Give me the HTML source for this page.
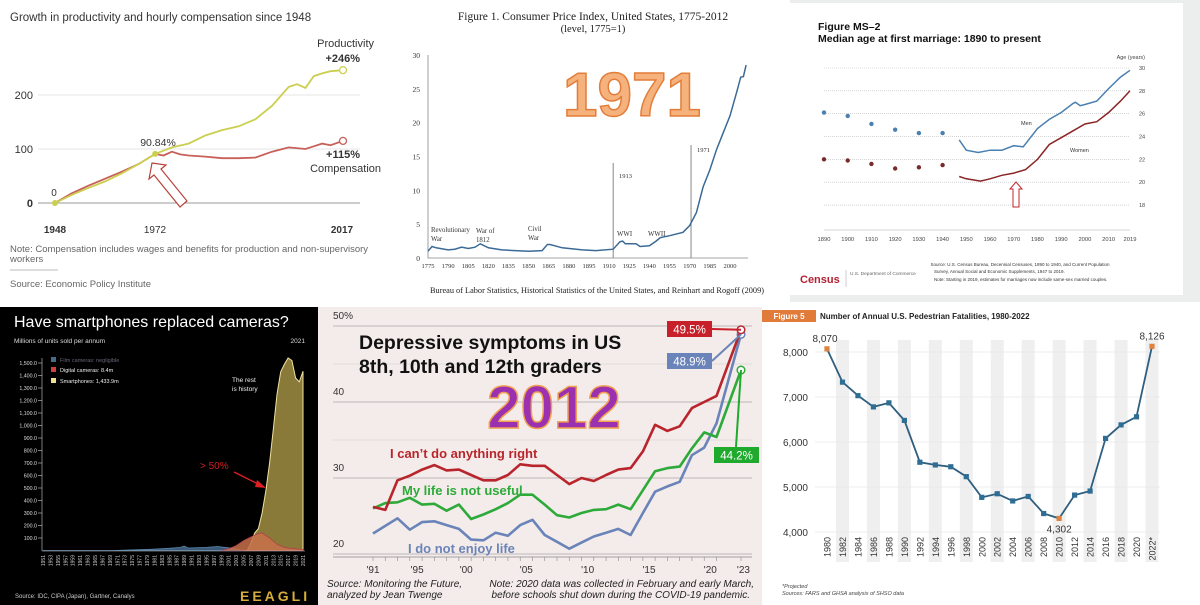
<!DOCTYPE html>
<html><head><meta charset="utf-8"><style>
html,body{margin:0;padding:0;background:#fff;}
svg{display:block;font-family:"Liberation Sans",sans-serif;}
.serif{font-family:"Liberation Serif",serif;}
</style></head><body>
<svg id="root" width="1200" height="605" viewBox="0 0 1200 605" xmlns="http://www.w3.org/2000/svg">
<rect x="0" y="0" width="390" height="302" fill="#fff"/>
<rect x="390" y="0" width="400" height="302" fill="#fff"/>
<rect x="790" y="0" width="410" height="302" fill="#eceeee"/>
<rect x="790" y="3" width="393" height="292" fill="#fff"/>
<rect x="0" y="307" width="318" height="298" fill="#000"/>
<rect x="318" y="307" width="444" height="298" fill="#f4ecea"/>
<rect x="762" y="307" width="438" height="298" fill="#fff"/>

<text x="10" y="21" font-size="11.5" fill="#333">Growth in productivity and hourly compensation since 1948</text>
<g id="p1"></g>
<text x="10" y="252" font-size="9.5" fill="#666">Note: Compensation includes wages and benefits for production and non-supervisory</text>
<text x="10" y="262" font-size="9.5" fill="#666">workers</text>
<line x1="10" y1="270" x2="58" y2="270" stroke="#bbb"/>
<text x="10" y="287" font-size="9.5" fill="#666">Source: Economic Policy Institute</text>

<text class="serif" x="593" y="20" font-size="11.5" text-anchor="middle" fill="#222">Figure 1. Consumer Price Index, United States, 1775-2012</text>
<text class="serif" x="593" y="32" font-size="10.5" text-anchor="middle" fill="#222">(level, 1775=1)</text>
<g id="p2"></g>
<text class="serif" x="597" y="293" font-size="8.3" text-anchor="middle" fill="#222">Bureau of Labor Statistics, Historical Statistics of the United States, and Reinhart and Rogoff (2009)</text>

<text x="818" y="30" font-size="10.5" font-weight="bold" fill="#111">Figure MS–2</text>
<text x="818" y="42" font-size="10.5" font-weight="bold" fill="#111">Median age at first marriage: 1890 to present</text>
<text x="1145" y="59" font-size="5.5" fill="#444" text-anchor="end">Age (years)</text>
<g id="p3"></g>
<text x="1020" y="266" font-size="4.5" fill="#333" text-anchor="middle">Source: U.S. Census Bureau, Decennial Censuses, 1890 to 1940, and Current Population</text>
<text x="934" y="273" font-size="4.5" fill="#333">Survey, Annual Social and Economic Supplements, 1947 to 2019.</text>
<text x="934" y="281" font-size="4.5" fill="#333">Note: Starting in 2019, estimates for marriages now include same-sex married couples.</text>
<text x="800" y="283" font-size="11" font-weight="bold" fill="#b22234">Census</text>
<line x1="846" y1="270" x2="846" y2="287" stroke="#999" stroke-width="0.5"/>
<text x="850" y="275" font-size="4.8" fill="#666">U.S. Department of Commerce</text>

<text x="14" y="327" font-size="16" fill="#fff">Have smartphones replaced cameras?</text>
<text x="14" y="343" font-size="6.5" fill="#ddd">Millions of units sold per annum</text>
<text x="305" y="343" font-size="6.5" fill="#ddd" text-anchor="end">2021</text>
<g id="p4"></g>
<text x="15" y="598" font-size="6" fill="#ccc">Source: IDC, CIPA (Japan), Gartner, Canalys</text>
<text x="240" y="601" font-size="14" font-weight="bold" fill="#d6ac3a" letter-spacing="3">EEAGLI</text>

<g id="p5"></g>
<text x="359" y="349" font-size="19.5" font-weight="bold" fill="#111">Depressive symptoms in US</text>
<text x="359" y="373" font-size="19.5" font-weight="bold" fill="#111">8th, 10th and 12th graders</text>
<text x="554" y="428" font-size="60" font-weight="bold" fill="#9b30b0" stroke="#f0a050" stroke-width="1.5" text-anchor="middle">2012</text>
<text x="390" y="458" font-size="13" font-weight="bold" fill="#b8252c">I can’t do anything right</text>
<text x="402" y="495" font-size="13" font-weight="bold" fill="#2eaa3a">My life is not useful</text>
<text x="408" y="553" font-size="13" font-weight="bold" fill="#6a84b9">I do not enjoy life</text>
<text x="327" y="587" font-size="10" font-style="italic" fill="#222">Source: Monitoring the Future,</text>
<text x="327" y="598" font-size="10" font-style="italic" fill="#222">analyzed by Jean Twenge</text>
<text x="754" y="587" font-size="10" font-style="italic" fill="#222" text-anchor="end">Note: 2020 data was collected in February and early March,</text>
<text x="750" y="598" font-size="10" font-style="italic" fill="#222" text-anchor="end">before schools shut down during the COVID-19 pandemic.</text>

<rect x="762" y="310" width="54" height="12" fill="#e07b39"/>
<text x="789" y="319" font-size="8" font-weight="bold" fill="#fff" text-anchor="middle">Figure 5</text>
<text x="820" y="319" font-size="8" font-weight="bold" fill="#222">Number of Annual U.S. Pedestrian Fatalities, 1980-2022</text>
<g id="p6"></g>
<text x="782" y="588" font-size="5.5" font-style="italic" fill="#444">*Projected</text>
<text x="782" y="595" font-size="5.5" font-style="italic" fill="#444">Sources: FARS and GHSA analysis of SHSO data</text>

<text x="632" y="116" font-size="62" font-weight="bold" fill="#f6b27c" stroke="#e37d3a" stroke-width="1.5" text-anchor="middle">1971</text>
</svg>
<script>
const prodYears = [1948,1952,1956,1960,1964,1968,1972,1976,1980,1984,1988,1992,1996,2000,2004,2006,2008,2010,2012,2014,2017];
const prodValues = [0,15,28,40,55,72,91,103,110,125,135,142,155,180,215,220,213,235,240,244,246];
const compYears = [1948,1952,1956,1960,1964,1968,1972,1974,1976,1978,1980,1984,1988,1992,1996,2000,2004,2008,2010,2012,2014,2017];
const compValues = [0,18,32,45,58,72,91,88,95,90,88,86,83,83,84,95,103,100,105,110,107,115];
const prodTicks = [0,100,200];

const cpiYears = [1775,1778,1781,1790,1795,1800,1805,1810,1814,1820,1830,1840,1850,1860,1864,1866,1875,1890,1900,1913,1918,1920,1922,1930,1933,1940,1945,1948,1955,1965,1970,1975,1980,1985,1990,1995,2000,2005,2008,2010,2012];
const cpiValues = [1,1.7,1.5,1.2,1.3,1.6,1.4,1.6,2.1,1.5,1.2,1.1,1.0,1.1,2.0,2.0,1.5,1.2,1.1,1.3,2.4,2.5,2.1,2.1,1.7,1.8,2.5,3.0,3.3,3.8,4.8,6.7,10.5,13,16,18.5,21,24.5,26.7,26.8,28.5];
const cpiYTicks = [0,5,10,15,20,25,30];
const cpiXTicks = [1775,1790,1805,1820,1835,1850,1865,1880,1895,1910,1925,1940,1955,1970,1985,2000];

const censusYears = [1890,1900,1910,1920,1930,1940];
const censusMen = [26.1,25.8,25.1,24.6,24.3,24.3];
const censusWomen = [22.0,21.9,21.6,21.2,21.3,21.5];
const cpsMenYears = [1947,1950,1955,1960,1965,1970,1974,1980,1985,1990,1995,1996,1998,2000,2005,2010,2015,2019];
const cpsMen = [23.7,22.8,22.6,22.8,22.8,23.2,23.1,24.7,25.5,26.1,26.9,27.0,26.7,26.8,27.1,28.2,29.2,29.8];
const cpsWomenYears = [1947,1950,1956,1960,1965,1970,1975,1980,1985,1990,1995,2000,2005,2010,2015,2019];
const cpsWomen = [20.5,20.3,20.1,20.3,20.6,20.8,21.1,22.0,23.3,23.9,24.5,25.1,25.3,26.1,27.1,28.0];
const ageTicks = [18,20,22,24,26,28,30];
const ageXTicks = [1890,1900,1910,1920,1930,1940,1950,1960,1970,1980,1990,2000,2010,2019];

const phoneYears = [2005,2006,2007,2008,2009,2010,2011,2012,2013,2014,2015,2016,2017,2018,2019,2020,2021];
const phoneValues = [0,0,60,140,175,300,480,700,970,1250,1430,1490,1540,1520,1380,1350,1434];
const digitalYears = [1999,2001,2003,2005,2007,2009,2010,2012,2014,2016,2018,2021];
const digitalValues = [0,15,40,80,110,135,140,100,50,25,15,8];
const filmYears = [1951,1970,1975,1980,1985,1988,1989,1990,1995,1998,2001,2004,2006];
const filmValues = [0,0,5,10,18,25,35,20,25,32,22,5,0];
const phoneTicks = [100,200,300,400,500,600,700,800,900,1000,1100,1200,1300,1400,1500];

const waveYears = [1991,1992,1993,1994,1995,1996,1997,1998,1999,2000,2001,2002,2003,2004,2005,2006,2007,2008,2009,2010,2011,2012,2013,2014,2015,2016,2017,2018,2019,2021];
const redValues = [26.2,25.8,29.7,30.3,31.1,31.7,31.0,31.1,30.4,29.7,29.7,30.4,31.8,31.6,31.6,30.4,29.2,30.0,29.6,30.4,31.1,31.3,33.5,37.0,36.2,36.8,39.2,40.0,40.8,49.5];
const greenValues = [26.0,26.7,26.8,27.4,26.5,26.6,25.7,26.5,24.6,25.2,25.9,26.7,27.8,27.8,26.5,25.1,24.8,25.4,25.8,25.9,26.5,25.9,28.4,30.9,31.3,31.5,33.9,36.0,35.4,44.2];
const blueValues = [22.7,23.7,24.7,23.2,24.2,24.3,23.8,23.3,21.9,21.8,22.8,22.4,23.8,24.5,22.5,21.6,20.7,21.5,22.3,22.8,23.3,22.5,25.4,28.2,28.9,29.5,33.0,34.0,37.2,48.9];
const depTicks = [20,30,40,50];
const depTickLabels = ["20","30","40","50%"];
const depXLabels = ["'91","'95","'00","'05","'10","'15","'20","'23"];
const depXLabelYears = [1991,1994.6,1998.6,2003.5,2008.5,2013.5,2018.5,2021.2];

const pedYears = [1980,1982,1984,1986,1988,1990,1992,1994,1996,1998,2000,2002,2004,2006,2008,2010,2012,2014,2016,2018,2020,2022];
const pedValues = [8070,7330,7030,6780,6870,6480,5550,5490,5450,5230,4770,4850,4690,4790,4410,4302,4820,4910,6080,6380,6560,8126];
const pedTicks = [4000,5000,6000,7000,8000];

const NS = "http://www.w3.org/2000/svg";
function mk(tag, attrs, parent){const e=document.createElementNS(NS,tag);for(const k in attrs)e.setAttribute(k,attrs[k]);parent.appendChild(e);return e;}
function txt(s, attrs, parent){const e=mk("text",attrs,parent);e.textContent=s;return e;}
function pathOf(xs, ys, fx, fy){return xs.map((v,i)=>(i?"L":"M")+fx(v).toFixed(1)+","+fy(ys[i]).toFixed(1)).join("");}

(function(){
const g=document.getElementById("p1");
const x=y=>55+(y-1948)*(288/69), yv=v=>203-v*0.54;
prodTicks.forEach(t=>{
  const l=mk("line",{x1:38,x2:360,y1:yv(t),y2:yv(t),stroke:t?"#ddd":"#999","stroke-width":t?0.8:1},g);
  
  
  const lb=txt(String(t),{x:33,y:yv(t)+4,"font-size":11,"text-anchor":"end",fill:"#333","font-weight":t?"normal":"bold"},g);
  
  
});
const c=mk("path",{d:pathOf(compYears,compValues,x,yv),fill:"none",stroke:"#c8605a","stroke-width":1.8},g);


const p=mk("path",{d:pathOf(prodYears,prodValues,x,yv),fill:"none",stroke:"#cbcf4e","stroke-width":1.8},g);


const e1=mk("circle",{cx:x(2017),cy:yv(prodValues[prodValues.length-1]),r:3.5,fill:"#fff",stroke:"#cbcf4e","stroke-width":1.3},g);


const e2=mk("circle",{cx:x(2017),cy:yv(compValues[compValues.length-1]),r:3.5,fill:"#fff",stroke:"#c8605a","stroke-width":1.3},g);


const d0=mk("circle",{cx:x(1948),cy:yv(0),r:3,fill:"#cbcf4e"},g);


const d1=mk("circle",{cx:x(1972),cy:yv(91),r:3,fill:"#cbcf4e"},g);


[["0",54,196,"normal",10,"middle","zero-label"],["90.84%",158,146,"normal",10.5,"middle","1972-value-label"],["Productivity",374,47,"normal",11,"end","productivity-label"],["+246%",360,62,"bold",11,"end","productivity-change-label"],["+115%",360,158,"bold",11,"end","compensation-change-label"],["Compensation",381,172,"normal",11,"end","compensation-label"],["1948",55,233,"bold",10,"middle","x-tick-1948"],["1972",155,233,"normal",10,"middle","x-tick-1972"],["2017",342,233,"bold",10,"middle","x-tick-2017"]].forEach(a=>{
  const t=txt(a[0],{x:a[1],y:a[2],"font-weight":a[3],"font-size":a[4],"text-anchor":a[5],fill:"#333"},g);
  
  
});
const ar=mk("path",{d:"M152,163 L166,165 L161,169 L187,201 L180,207 L154,175 L149,179 Z",fill:"#fff",stroke:"#b8433a","stroke-width":1.2},g);


})();

(function(){
const g=document.getElementById("p2");
const x=y=>428+(y-1775)*1.342, yv=v=>258-v*6.77;
const ax=mk("path",{d:"M428,55 L428,258 L748,258",fill:"none",stroke:"#888","stroke-width":0.8},g);


cpiYTicks.forEach(t=>{
  const lb=txt(String(t),{x:420,y:yv(t)+3,"font-size":7.5,"text-anchor":"end",fill:"#333",class:"serif"},g);
  
  
});
cpiXTicks.forEach(t=>{
  const lb=txt(String(t),{x:x(t),y:268,"font-size":6.5,"text-anchor":"middle",fill:"#333",class:"serif"},g);
  
  
});
[[1913,163,"1913",619,178],[1971,145,"1971",697,152]].forEach(a=>{
  const l=mk("line",{x1:x(a[0]),x2:x(a[0]),y1:a[1],y2:258,stroke:"#888","stroke-width":1},g);
  
  
  const t=txt(a[2],{x:a[3],y:a[4],"font-size":6.5,fill:"#333",class:"serif"},g);
  
  
});
[["Revolutionary",431,232],["War",431,241],["War of",476,233],["1812",476,242],["Civil",528,231],["War",528,240],["WWI",617,236],["WWII",648,236]].forEach(a=>{
  const t=txt(a[0],{x:a[1],y:a[2],"font-size":6.8,fill:"#333",class:"serif"},g);
  
  
});
const l=mk("path",{d:pathOf(cpiYears,cpiValues,x,yv),fill:"none",stroke:"#3b6a96","stroke-width":1.5},g);


})();

(function(){
const g=document.getElementById("p3");
const x=y=>824+(y-1890)*2.372, yv=v=>68+(30-v)*11.42;
ageTicks.forEach(t=>{
  const l=mk("line",{x1:824,x2:1130,y1:yv(t),y2:yv(t),stroke:"#bbb","stroke-width":0.6,"stroke-dasharray":"1,1"},g);
  
  
  const lb=txt(String(t),{x:1139,y:yv(t)+2,"font-size":5.5,fill:"#444"},g);
  
  
});
const ax=mk("line",{x1:824,x2:1130,y1:230,y2:230,stroke:"#aaa","stroke-width":0.6},g);


ageXTicks.forEach(t=>{
  const lb=txt(String(t),{x:x(t),y:241,"font-size":5.8,"text-anchor":"middle",fill:"#444"},g);
  
  
});
censusYears.forEach((yr,i)=>{
  const m=mk("circle",{cx:x(yr),cy:yv(censusMen[i]),r:2.2,fill:"#4a7fb0"},g);
  
  
  const w=mk("circle",{cx:x(yr),cy:yv(censusWomen[i]),r:2.2,fill:"#7a2a2a"},g);
  
  
});
const ml=mk("path",{d:pathOf(cpsMenYears,cpsMen,x,yv),fill:"none",stroke:"#4a7fb0","stroke-width":1.5},g);


const wl=mk("path",{d:pathOf(cpsWomenYears,cpsWomen,x,yv),fill:"none",stroke:"#8b2525","stroke-width":1.5},g);


const t1=txt("Men",{x:1021,y:125,"font-size":5.5,fill:"#333"},g);


const t2=txt("Women",{x:1070,y:152,"font-size":5.5,fill:"#333"},g);


const ar=mk("path",{d:"M1016,182 L1022,189 L1019,189 L1019,207 L1013,207 L1013,189 L1010,189 Z",fill:"#fff",stroke:"#c0262b","stroke-width":1},g);


})();

(function(){
const g=document.getElementById("p4");
const x=y=>43+(y-1951)*(260/70), yv=v=>550.5-v*0.125;
phoneTicks.forEach(t=>{
  const lb=txt(t.toLocaleString("en-US")+".0",{x:37,y:yv(t)+2,"font-size":5.3,"text-anchor":"end",fill:"#ddd"},g);
  
  
  const tk=mk("line",{x1:38,x2:42,y1:yv(t),y2:yv(t),stroke:"#ccc","stroke-width":0.6},g);
  
  
});
const ya=mk("line",{x1:42,x2:42,y1:358,y2:551,stroke:"#ccc","stroke-width":0.6},g);


function area(xs,vs){return pathOf(xs,vs,x,yv)+"L"+x(xs[xs.length-1]).toFixed(1)+","+yv(0)+"L"+x(xs[0]).toFixed(1)+","+yv(0)+"Z";}
const fa=mk("path",{d:area(filmYears,filmValues),fill:"#3c5a78",stroke:"#5a86ab","stroke-width":0.8},g);


const pa=mk("path",{d:area(phoneYears,phoneValues),fill:"#8a7a3a",stroke:"#f2e3a0","stroke-width":1},g);


const da=mk("path",{d:area(digitalYears,digitalValues),fill:"#c8704a","fill-opacity":0.85,stroke:"#b8304a","stroke-width":0.6},g);


const xa=mk("line",{x1:42,x2:305,y1:551,y2:551,stroke:"#ccc","stroke-width":0.6},g);


for(let yr=1951;yr<=2021;yr+=2){
  const lb=txt(String(yr),{x:0,y:0,"font-size":5,"text-anchor":"end",fill:"#ccc",transform:`translate(${x(yr)+2},555) rotate(-90)`},g);
  
  
}
[["#4a6a8a","Film cameras: negligible",362,"#667"],["#d04040","Digital cameras: 8.4m",372,"#eee"],["#f0e090","Smartphones: 1,433.9m",383,"#eee"]].forEach(a=>{
  const r=mk("rect",{x:51,y:a[2]-5,width:5,height:5,fill:a[0]},g);
  
  
  const t=txt(a[1],{x:60,y:a[2],"font-size":5.5,fill:a[3]},g);
  
  
});
const r1=txt("The rest",{x:232,y:382,"font-size":6.5,fill:"#eee"},g);


const r2=txt("is history",{x:232,y:391,"font-size":6.5,fill:"#eee"},g);


const r3=txt("> 50%",{x:200,y:469,"font-size":10,fill:"#d02020"},g);


const a1=mk("path",{d:"M234,472 L260,485",stroke:"#e02020","stroke-width":1.3},g);


const a2=mk("path",{d:"M266,488 L257,480 L255,487 Z",fill:"#e02020"},g);


})();

(function(){
const g=document.getElementById("p5");
const x=y=>373+(y-1991)*(368/30), yv=v=>554-(v-20)*7.6;
depTicks.forEach((t,i)=>{
  const l=mk("line",{x1:333,x2:752,y1:yv(t),y2:yv(t),stroke:"#aaa","stroke-width":0.8},g);
  
  
  const lb=txt(depTickLabels[i],{x:333,y:yv(t)-7,"font-size":10,fill:"#333"},g);
  
  
});
[35,45].forEach(t=>{
  const l=mk("line",{x1:333,x2:752,y1:yv(t),y2:yv(t),stroke:"#ccc","stroke-width":0.6},g);
  
  
});
const xa=mk("line",{x1:333,x2:752,y1:557,y2:557,stroke:"#888","stroke-width":0.8},g);


waveYears.forEach(yr=>{
  const tk=mk("line",{x1:x(yr),x2:x(yr),y1:557,y2:561,stroke:"#888","stroke-width":0.6},g);
  
  
});
depXLabels.forEach((s,i)=>{
  const lb=txt(s,{x:x(depXLabelYears[i]),y:573,"font-size":10,"text-anchor":"middle",fill:"#333"},g);
  
  
});
[[blueValues,"#6a84b9","not-enjoy-life-line"],[greenValues,"#2eaa3a","life-not-useful-line"],[redValues,"#b8252c","cant-do-anything-line"]].forEach(s=>{
  const l=mk("path",{d:pathOf(waveYears,s[0],x,yv),fill:"none",stroke:s[1],"stroke-width":2.6,"stroke-linejoin":"round"},g);
  
  
  const c=mk("circle",{cx:x(waveYears[waveYears.length-1]),cy:yv(s[0][s[0].length-1]),r:3.8,fill:"#fff",stroke:s[1],"stroke-width":1.5},g);
  
  
});
const last=waveYears[waveYears.length-1];
[[redValues,"#c8202a",667,321,"49.5%"],[blueValues,"#6a84b9",667,353,"48.9%"],[greenValues,"#1faa2e",714,447,"44.2%"]].forEach(s=>{
  const v=s[0][s[0].length-1];
  const ln=mk("line",{x1:s[2]+(s[2]>700?22:45),y1:s[3]+(s[2]>700?0:8),x2:x(last),y2:yv(v),stroke:s[1],"stroke-width":2},g);
  
  
  const r=mk("rect",{x:s[2],y:s[3],width:45,height:16,fill:s[1]},g);
  
  
  const t=txt(s[4],{x:s[2]+22.5,y:s[3]+12.5,"font-size":11.5,"text-anchor":"middle",fill:"#fff"},g);
  
  
});
})();

(function(){
const g=document.getElementById("p6");
const x=y=>827+(y-1980)*(325/42), yv=v=>352-(v-8000)*0.045;
pedYears.forEach((yr,i)=>{
  if(i%2===1){
    const b=mk("rect",{x:x(yr)-6.5,y:340,width:13,height:222,fill:"#efefef"},g);
    
    
  }
});
pedTicks.forEach(t=>{
  const l=mk("line",{x1:815,x2:1160,y1:yv(t),y2:yv(t),stroke:"#e6e6e6","stroke-width":0.8},g);
  
  
  const lb=txt(t.toLocaleString("en-US"),{x:808,y:yv(t)+4,"font-size":10,"text-anchor":"end",fill:"#333"},g);
  
  
});
pedYears.forEach((yr,i)=>{
  const lb=txt(String(yr)+(i===pedYears.length-1?"*":""),{x:0,y:0,"font-size":9,"text-anchor":"end",fill:"#333",transform:`translate(${x(yr)+3.5},537) rotate(-90)`},g);
  
  
});
const l=mk("path",{d:pathOf(pedYears,pedValues,x,yv),fill:"none",stroke:"#2f5f7f","stroke-width":1.8},g);


const hi=[0,15,pedYears.length-1];
pedYears.forEach((yr,i)=>{
  const m=mk("rect",{x:x(yr)-2.6,y:yv(pedValues[i])-2.6,width:5.2,height:5.2,fill:hi.includes(i)?"#e0823f":"#2f6e94"},g);
  
  
});
hi.forEach((i,k)=>{
  const dy=k===1?14:-7;
  const t=txt(pedValues[i].toLocaleString("en-US"),{x:x(pedYears[i])+(k===0?-2:0),y:yv(pedValues[i])+dy,"font-size":10,"text-anchor":"middle",fill:"#333"},g);
  
  
});
})();
</script>
</body></html>
